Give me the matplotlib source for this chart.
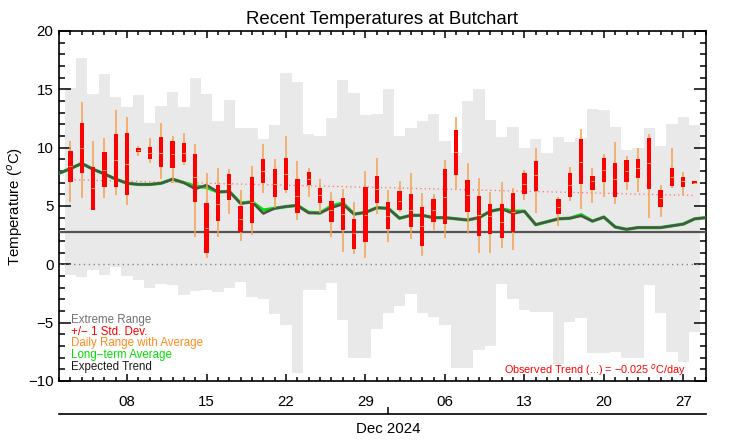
import numpy as np
import matplotlib
matplotlib.use('Agg')
import matplotlib.pyplot as plt
import matplotlib.dates as mdates
from datetime import date, timedelta

plt.rcParams['font.family'] = ['Liberation Sans', 'DejaVu Sans']

# --- data (one value per day, 3 Nov .. 28 Dec 2024) ---
first_day = date(2024, 11, 3)
n_days = 56
days = [first_day + timedelta(days=i) for i in range(n_days)]

extreme_max = [15.1, 17.7, 14.6, 16.3, 14.3, 13.5, 14.5, 12.1, 13.6, 14.8,
               13.5, 16.0, 14.6, 12.3, 14.1, 11.7, 11.7, 10.7, 11.9, 16.4,
               15.6, 11.2, 11.0, 12.5, 15.8, 14.7, 12.8, 12.9, 15.0, 11.0,
               11.7, 12.3, 12.9, 10.6, 9.5, 14.0, 15.0, 12.4, 10.9, 11.8,
               10.0, 10.7, 9.5, 10.9, 10.5, 10.8, 13.3, 13.2, 11.8, 9.8,
               10.0, 11.7, 10.1, 12.0, 12.6, 11.9]
extreme_min = [-0.9, -1.05, -0.45, -0.9, -0.25, -1.0, -1.35, -2.05, -1.65, -1.8,
               -2.65, -2.25, -2.2, -2.4, -2.0, -1.55, -2.8, -3.0, -4.25, -5.2,
               -9.3, -2.2, -2.2, -1.6, -4.75, -8.05, -8.05, -5.5, -4.15, -3.55,
               -2.55, -4.15, -4.5, -5.2, -8.9, -8.9, -7.35, -7.0, -1.7, -3.0,
               -3.9, -4.05, -4.05, -8.5, -4.9, -4.6, -7.6, -7.6, -7.5, -8.05,
               -8.05, -1.8, -4.2, -7.5, -8.35, -5.8]

nan = np.nan
day_max = [10.57, 13.94, 10.57, 10.86, 13.23, 12.6, 10.17, 10.8, 12.09, 11.0,
           11.23, 10.31, 7.8, 8.23, 8.14, 6.37, 8.43, 10.29, 9.0, 11.0,
           8.86, 8.29, 7.29, 6.23, 6.43, 5.37, 8.03, 9.09, 6.37, 7.14,
           7.86, 6.09, 6.03, 8.94, 12.6, 8.66, 7.37, 6.23, 7.09, 6.51,
           8.09, 9.94, nan, 5.8, 8.37, 11.6, 8.29, 9.46, 10.51, 9.31,
           9.94, 11.17, 6.8, 9.94, 7.94, 7.15]
day_min = [5.37, 5.66, 4.66, 5.66, 5.94, 5.09, 9.31, 8.71, 7.31, 6.94,
           8.51, 2.31, 0.51, 2.37, 4.29, 2.03, 2.51, 6.09, 4.8, 6.09,
           3.8, 5.8, 4.37, 2.37, 1.09, 0.89, 0.51, 4.31, 1.94, 4.5,
           2.17, 0.71, 2.94, 2.23, 6.43, 2.6, 1.0, 0.94, 1.37, 1.23,
           5.51, 4.43, nan, 3.29, 5.46, 4.74, 5.23, 5.74, 5.14, 6.37,
           6.23, 3.94, 4.09, 6.51, 5.94, 6.9]
day_avg = [8.4, 10.0, 6.5, 8.1, 8.9, 8.6, 9.8, 9.5, 9.5, 9.45,
           9.5, 7.5, 3.15, 5.2, 6.85, 3.85, 5.3, 8.0, 6.9, 7.75,
           5.85, 7.35, 5.95, 4.65, 4.35, 2.65, 4.25, 6.45, 4.1, 5.45,
           4.65, 3.3, 4.65, 5.8, 9.65, 5.9, 4.25, 4.1, 3.65, 4.5,
           6.9, 7.65, nan, 4.95, 6.8, 8.8, 7.1, 8.1, 7.3, 8.0,
           8.25, 8.65, 5.7, 7.5, 7.1, 7.0]
std_hi = [9.74, 12.09, 8.37, 9.6, 11.14, 11.26, 10.0, 10.06, 10.94, 10.6,
          10.43, 9.46, 5.29, 6.8, 7.71, 5.0, 7.46, 9.0, 8.14, 9.09,
          7.29, 7.94, 6.51, 5.46, 5.66, 3.89, 6.66, 7.6, 5.31, 6.26,
          6.0, 4.89, 5.57, 8.14, 11.51, 7.23, 5.89, 5.2, 5.2, 6.09,
          7.8, 8.89, nan, 5.57, 7.8, 10.77, 7.57, 9.09, 8.71, 8.94,
          9.06, 10.8, 6.37, 8.23, 7.51, 7.17]
std_lo = [7.09, 7.8, 4.66, 6.66, 6.66, 5.94, 9.6, 9.0, 8.37, 8.29,
          8.8, 5.37, 1.0, 3.74, 5.51, 2.74, 3.57, 6.94, 5.74, 6.37,
          4.43, 6.77, 5.29, 3.66, 2.94, 1.31, 1.94, 5.23, 3.0, 4.66,
          3.17, 1.57, 3.66, 3.43, 7.66, 4.51, 2.43, 2.6, 2.23, 2.8,
          6.0, 6.31, nan, 4.29, 5.8, 6.86, 6.37, 7.09, 5.8, 7.09,
          7.37, 6.43, 4.94, 6.71, 6.66, 6.89]

# long-term average and expected trend, 2 Nov .. 29 Dec
curve_days = [first_day - timedelta(days=1) + timedelta(days=i) for i in range(n_days + 2)]
longterm_avg = [7.8, 8.2, 8.65, 8.15, 7.75, 7.3, 6.95, 6.85, 6.85, 6.95, 7.3,
                7.0, 6.7, 6.6, 6.2, 6.25, 5.25, 5.35, 4.65, 4.8, 4.95,
                5.05, 4.45, 4.4, 5.0, 5.25, 4.3, 4.45, 4.85, 4.8, 3.95,
                4.2, 4.2, 4.0, 4.0, 3.9, 3.8, 4.0, 4.55, 4.75, 4.55,
                4.55, 3.4, 3.65, 3.9, 3.95, 4.25, 3.7, 4.05, 3.2, 3.0,
                3.15, 3.15, 3.15, 3.3, 3.45, 3.9, 4.0]
expected_trend = [7.8, 8.2, 8.65, 8.15, 7.75, 7.3, 6.95, 6.85, 6.85, 6.95, 7.3,
                  7.0, 6.45, 6.8, 6.2, 6.25, 5.2, 5.35, 4.35, 4.8, 4.95,
                  5.05, 4.4, 4.4, 4.85, 5.15, 4.3, 4.45, 4.85, 4.8, 3.95,
                  4.2, 4.2, 4.0, 4.0, 3.9, 3.8, 4.0, 4.55, 4.75, 4.35,
                  4.55, 3.4, 3.65, 3.9, 3.95, 4.15, 3.7, 4.05, 3.2, 3.0,
                  3.15, 3.15, 3.15, 3.3, 3.45, 3.9, 4.0]
period_mean = 2.8
trend_ends = [7.25, 5.9]   # observed trend at first and last day
trend_text = 'Observed Trend (...) = \u22120.025 $^o$C/day'

legend_items = [('Extreme Range', '#727272'),
                ('+/\u2212 1 Std. Dev.', '#ff0000'),
                ('Daily Range with Average', '#ff8c1a'),
                ('Long\u2212term Average', '#00e000'),
                ('Expected Trend', '#1a1a1a')]

# --- figure ---
fig = plt.figure(figsize=(7.42, 4.45), dpi=100)
ax = fig.add_axes([59 / 742, 64 / 445, 647 / 742, 350 / 445])

x = mdates.date2num(days)
cx = mdates.date2num(curve_days)
edges = np.append(x - 0.5, x[-1] + 0.5)

ax.stairs(extreme_max, edges, baseline=extreme_min, fill=True,
          color='#e9e9e9', lw=0, zorder=1)
ax.axhline(0, color='#888888', lw=1, ls=(0, (1, 2.5)), zorder=2)
ax.plot([x[0], x[-1]], trend_ends, color='#ff7070', lw=0.9,
        ls=(0, (1, 2.5)), zorder=2)
ax.axhline(period_mean, color='#555555', lw=1.6, zorder=3)
ax.plot(cx, longterm_avg, color='#00e000', lw=2.4, zorder=3)
ax.plot(cx, expected_trend, color='#505050', lw=1.8, zorder=4)

ax.vlines(x, day_min, day_max, color='#f5a050', lw=1.1, zorder=5)
std_hi = np.array(std_hi)
std_lo = np.array(std_lo)
ax.bar(x, np.maximum(std_hi - std_lo, 0.25), bottom=std_lo, width=0.38,
       color='#ff0000', lw=0, zorder=6)
ax.hlines(day_avg, x - 0.17, x + 0.17, color='#f5a050', lw=0.8, zorder=7)

ax.set_xlim(mdates.date2num(date(2024, 11, 2)), mdates.date2num(date(2024, 12, 29)))
ax.set_ylim(-10, 20)
ax.set_yticks([-10, -5, 0, 5, 10, 15, 20])
ax.yaxis.set_minor_locator(matplotlib.ticker.MultipleLocator(1))
ax.xaxis.set_major_locator(mdates.WeekdayLocator(byweekday=mdates.FR))
ax.xaxis.set_major_formatter(mdates.DateFormatter('%d'))
ax.xaxis.set_minor_locator(mdates.DayLocator())

ax.tick_params(which='both', direction='in', top=True, right=True,
               width=1.1, labelsize=10.8)
ax.tick_params(axis='y', which='major', length=8.6, pad=4)
ax.tick_params(axis='y', which='minor', length=4.3)
ax.tick_params(axis='x', which='major', length=5, pad=10)
ax.tick_params(axis='x', which='minor', length=2.6)
for spine in ax.spines.values():
    spine.set_linewidth(1.2)

ax.set_title('Recent Temperatures at Butchart', fontsize=13.4, pad=5)
ax.set_ylabel('Temperature ($^o$C)', fontsize=10.8, labelpad=2)

# month axis below
sec = ax.secondary_xaxis(-33 / 350)
sec.set_xticks([mdates.date2num(date(2024, 12, 1))])
sec.set_xticklabels(['Dec 2024'])
sec.tick_params(direction='in', length=5, width=1.1, labelsize=10.8, pad=6)
sec.spines['bottom'].set_linewidth(1.2)

# legend as coloured text
for k, (label, col) in enumerate(legend_items):
    ax.text(12 / 647, (61 - 11.7 * k) / 350, label, color=col, fontsize=8.3,
            transform=ax.transAxes, va='center', ha='left')
ax.text(627 / 647, 11 / 350, trend_text, color='#ff0000', fontsize=7.8,
        transform=ax.transAxes, va='center', ha='right')

fig.savefig('out.png', dpi=100)
